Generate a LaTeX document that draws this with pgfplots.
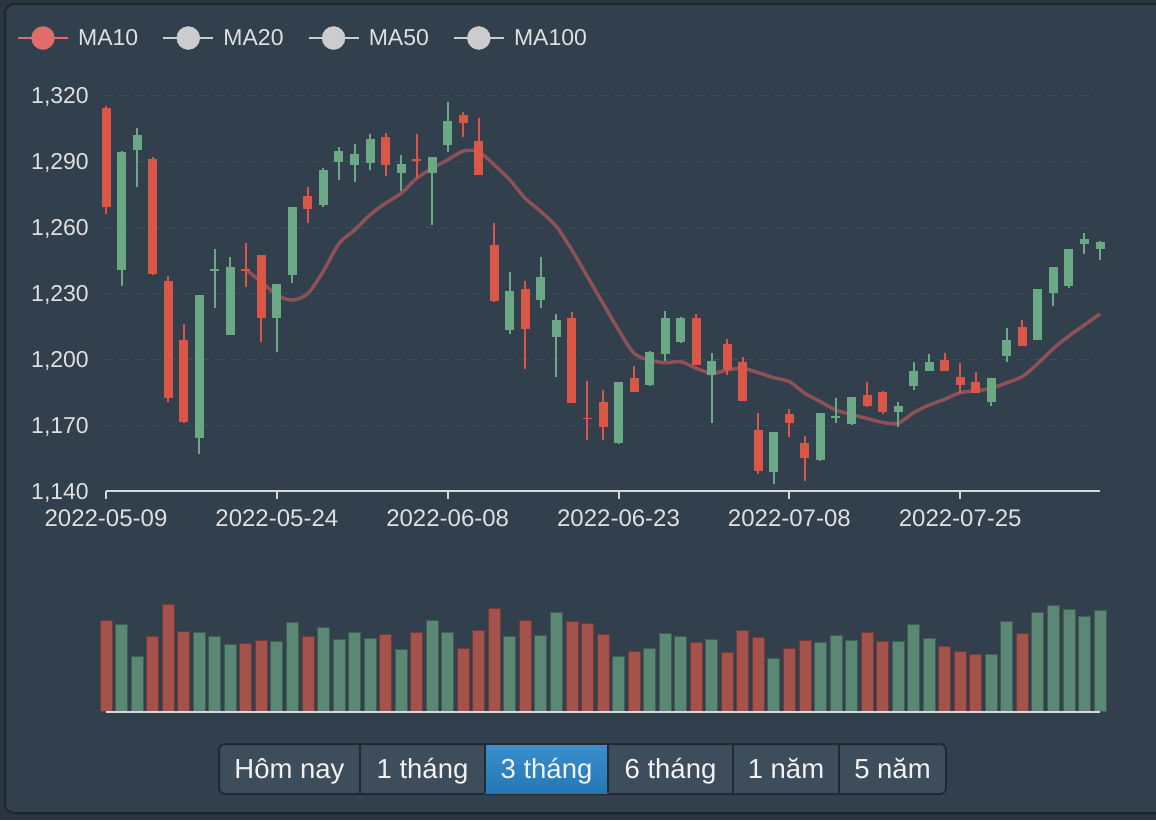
\documentclass[border=0pt]{standalone}
\usepackage{pgfplots}
\pgfplotsset{compat=1.18}
\usepackage{pgfplotstable}
\usepackage{fontspec}
\setmainfont{Liberation Sans}
\definecolor{outerbg}{RGB}{42,53,64}
\definecolor{panel}{RGB}{50,63,77}
\definecolor{panelborder}{RGB}{29,37,45}
\definecolor{cup}{RGB}{106,168,134}
\definecolor{cdn}{RGB}{218,87,71}
\definecolor{vup}{RGB}{91,136,116}
\definecolor{vdn}{RGB}{163,82,76}
\definecolor{maline}{RGB}{140,82,88}
\definecolor{txt}{RGB}{224,224,224}
\definecolor{gridc}{RGB}{64,78,92}
\definecolor{axisc}{RGB}{216,216,216}
\definecolor{ma10}{RGB}{224,108,108}
\definecolor{magrey}{RGB}{204,204,204}
\definecolor{btn}{RGB}{61,77,92}
\definecolor{btnborder}{RGB}{33,42,51}
\definecolor{btntop}{RGB}{58,142,204}
\definecolor{btnbot}{RGB}{34,120,181}

% i = trading day index, o/c/h/l = open/close/high/low, v = volume (relative)
\pgfplotstableread{
i o c h l v
0 1314 1269 1315 1266 90.7
3 1291 1238.5 1292 1238 74.7
4 1235.5 1182.4 1237.7 1180.6 106.3
5 1208.6 1171.5 1215.9 1170.8 79.7
9 1241 1240 1252.9 1232.6 67.3
10 1247.1 1218.5 1247.5 1207.9 70.7
13 1274.2 1268.2 1278 1261.7 74.3
18 1301.1 1288.2 1302.6 1283.3 76.3
20 1290.5 1290 1302.3 1282.1 78.3
23 1310.9 1307.4 1312.4 1300.8 63
24 1299.1 1283.6 1309.4 1283.6 81
25 1251.7 1226.5 1261.7 1226 102.3
27 1231.7 1213.6 1235.6 1195.3 90.7
30 1218.8 1180.2 1221.5 1180.2 89.7
31 1173.3 1172.6 1190 1163.2 87.7
32 1180.6 1168.9 1185.9 1163.2 76.7
34 1191.2 1185.2 1196.8 1185.2 59.7
38 1218.5 1197.3 1220.5 1197.3 68.3
40 1206.8 1195 1208.9 1192.7 58.3
41 1198.8 1180.9 1201 1180.9 80.7
42 1167.7 1149.2 1175.3 1147.7 73.7
44 1174.8 1171.1 1177.1 1164.4 63
45 1161.7 1155.2 1165.2 1144.7 70.7
49 1183.6 1178.8 1189.7 1178 78.7
50 1185.2 1176.1 1185.4 1174.8 69.3
54 1199.5 1194.5 1202.6 1194.5 64.7
55 1192 1188.2 1198 1184.4 59.3
56 1189.7 1184.7 1194.2 1184.5 56.3
59 1214.7 1206.1 1217.7 1206.1 77.7
}\dnT

\pgfplotstableread{
i o c h l v
1 1240.5 1294 1294.5 1233 86.7
2 1295 1302 1305 1278 55
6 1164 1229 1229.3 1156.7 78.7
7 1240 1241 1249.8 1223 74.3
8 1211 1242 1246.5 1211 66.3
11 1218.5 1234 1234 1203.3 69.3
12 1238.2 1268.9 1269 1234.4 89
14 1270 1285.9 1287 1269.2 83.3
15 1289.7 1294.4 1296.2 1281.4 72
16 1288.2 1293.2 1297.7 1280.6 78.7
17 1289.2 1300 1302.3 1285.9 73
19 1284.4 1288.5 1292.7 1276.5 62
21 1284.7 1291.7 1291.7 1260.9 90.3
22 1297.3 1308.3 1316.7 1294.2 78.7
26 1213.2 1230.9 1239.4 1211.2 75
28 1226.8 1237.1 1246.5 1223 75.7
29 1210.2 1217.7 1220.5 1192 98.7
33 1161.7 1189.4 1189.6 1161.5 55
35 1188.2 1203.3 1203.8 1187.6 62.3
36 1202.1 1218.5 1221.8 1199.1 77.3
37 1207.9 1218.5 1219 1207.5 75
39 1192.7 1199.2 1202.6 1171.1 71.7
43 1148.5 1167 1167 1143 52.3
46 1154.1 1175.3 1175.3 1153.5 68.7
47 1173.4 1174.2 1182.1 1171.1 75.3
48 1170.3 1182.6 1182.8 1170 70.7
51 1175.8 1178.6 1180.3 1169.2 69.3
52 1187.9 1194.5 1198.5 1185.9 86.7
53 1194.7 1198.8 1202.1 1194.7 72.3
57 1180.6 1191.5 1191.5 1178.8 56.3
58 1201.5 1208.6 1213.9 1198.8 89.7
60 1208.6 1231.7 1231.7 1208.6 98.3
61 1229.8 1242 1242 1224.1 106
62 1233.3 1250.2 1250.2 1232.4 101.3
63 1252.3 1254.5 1257.4 1247.6 94.7
64 1250 1253 1253.5 1245 100.7
}\upT

\pgfplotstableread{
i ma
9 1240.6
10 1235.1
11 1229.1
12 1226.8
13 1229.8
14 1240.0
15 1252.5
16 1258.6
17 1265.5
18 1270.8
19 1275.3
20 1282.1
21 1286.7
22 1290.5
23 1294.5
24 1294.2
25 1288.2
26 1281.4
27 1273.0
28 1267.0
29 1260.2
30 1249.5
31 1237.4
32 1225.3
33 1213.2
34 1202.6
35 1199.5
36 1198.3
37 1198.8
38 1195.8
39 1193.5
40 1195.0
41 1195.8
42 1193.8
43 1191.5
44 1189.7
45 1184.4
46 1180.6
47 1176.8
48 1174.8
49 1173.0
50 1171.2
51 1170.8
52 1175.6
53 1179.1
54 1181.7
55 1184.7
56 1185.5
57 1186.7
58 1189.2
59 1192.0
60 1198.0
61 1204.8
62 1210.5
63 1215.5
64 1220.5
}\maT

\begin{document}
\begin{tikzpicture}
\path[use as bounding box] (0pt,0pt) rectangle (1156pt,-820pt);
\fill[outerbg] (0pt,0pt) rectangle (1156pt,-820pt);
\draw[panelborder, line width=2pt, fill=panel, rounded corners=9pt] (5pt,-4pt) rectangle (1180pt,-813pt);

\begin{axis}[
  at={(106pt,-491pt)}, anchor=south west,
  scale only axis, width=994pt, height=396pt,
  xmin=0, xmax=64, ymin=1140, ymax=1320,
  clip=false,
  axis x line*=bottom, axis y line*=left,
  x axis line style={draw=axisc, line width=2pt},
  y axis line style={draw=none},
  xtick={0,11,22,33,44,55},
  xticklabels={2022-05-09,2022-05-24,2022-06-08,2022-06-23,2022-07-08,2022-07-25},
  ytick={1140,1170,1200,1230,1260,1290,1320},
  tick align=outside, major tick length=8pt,
  xtick style={draw=axisc, line width=2pt},
  ytick style={draw=none},
  ymajorgrids,
  grid style={gridc, line width=1pt, dash pattern=on 7pt off 9pt},
  yticklabel style={font=\fontsize{23}{27}\selectfont, text=txt, inner sep=0pt, anchor=base east, xshift=-9pt, yshift=-8.2pt,
    /pgf/number format/fixed, /pgf/number format/precision=0, /pgf/number format/1000 sep={,}, /pgf/number format/assume math mode=true},
  xticklabel style={font=\fontsize{24}{28}\selectfont, text=txt, inner sep=0pt, anchor=base, yshift=-27pt},
  legend columns=4,
  legend cell align=left,
  legend style={at={(-0.08954,1.1439)}, anchor=west, draw=none, fill=none, inner sep=0pt, outer sep=0pt,
    font=\fontsize{23}{27}\selectfont, text=txt, nodes={inner sep=0pt},
    /tikz/every even column/.append style={column sep=24pt}},
]
\addlegendimage{legend image code/.code={\draw[ma10, line width=2pt] (0pt,0pt) -- (50pt,0pt); \fill[ma10] (25pt,0pt) circle (11.5pt); \path (60pt,0pt);}}
\addlegendentry{MA10}
\addlegendimage{legend image code/.code={\draw[magrey, line width=2pt] (0pt,0pt) -- (50pt,0pt); \fill[magrey] (25pt,0pt) circle (11.5pt); \path (60pt,0pt);}}
\addlegendentry{MA20}
\addlegendimage{legend image code/.code={\draw[magrey, line width=2pt] (0pt,0pt) -- (50pt,0pt); \fill[magrey] (25pt,0pt) circle (11.5pt); \path (60pt,0pt);}}
\addlegendentry{MA50}
\addlegendimage{legend image code/.code={\draw[magrey, line width=2pt] (0pt,0pt) -- (50pt,0pt); \fill[magrey] (25pt,0pt) circle (11.5pt); \path (60pt,0pt);}}
\addlegendentry{MA100}

% MA10 line
\addplot[forget plot, maline, line width=3.5pt, smooth, mark=none] table[x=i, y=ma] {\maT};

% wicks
\addplot[forget plot, draw=none, mark=none,
  error bars/.cd, y dir=plus, y explicit, error mark=none,
  error bar style={line width=2pt, draw=cdn}]
  table[x=i, y=l, y error expr={\thisrow{h}-\thisrow{l}}] {\dnT};
\addplot[forget plot, draw=none, mark=none,
  error bars/.cd, y dir=plus, y explicit, error mark=none,
  error bar style={line width=2pt, draw=cup}]
  table[x=i, y=l, y error expr={\thisrow{h}-\thisrow{l}}] {\upT};
% bodies
\addplot[forget plot, draw=none, mark=none,
  error bars/.cd, y dir=plus, y explicit, error mark=none,
  error bar style={line width=9pt, draw=cdn}]
  table[x=i, y expr={min(\thisrow{o},\thisrow{c})}, y error expr={max(abs(\thisrow{c}-\thisrow{o}),0.8)}] {\dnT};
\addplot[forget plot, draw=none, mark=none,
  error bars/.cd, y dir=plus, y explicit, error mark=none,
  error bar style={line width=9pt, draw=cup}]
  table[x=i, y expr={min(\thisrow{o},\thisrow{c})}, y error expr={max(abs(\thisrow{c}-\thisrow{o}),0.8)}] {\upT};
\end{axis}

\begin{axis}[
  at={(106pt,-712pt)}, anchor=south west,
  scale only axis, width=994pt, height=121pt,
  xmin=0, xmax=64, ymin=-1, ymax=120,
  clip=false, axis on top,
  axis x line*=bottom, axis y line*=left,
  x axis line style={draw=axisc, line width=2pt},
  y axis line style={draw=none},
  xtick=\empty, ytick=\empty,
]
\addplot[ybar, bar width=12pt, bar shift=0pt, fill=vdn, draw=vdn!70!black, line width=0.8pt, mark=none] table[x=i, y=v] {\dnT};
\addplot[ybar, bar width=12pt, bar shift=0pt, fill=vup, draw=vup!70!black, line width=0.8pt, mark=none] table[x=i, y=v] {\upT};
\end{axis}

% range buttons
\draw[btnborder, line width=2pt, fill=btn, rounded corners=6pt] (219pt,-744pt) rectangle (946pt,-794pt);
\shade[top color=btntop, bottom color=btnbot] (485pt,-745pt) rectangle (608pt,-793pt);
\foreach \xx in {360,485,608,733,839} {
  \draw[btnborder, line width=1.5pt] (\xx pt,-745pt) -- (\xx pt,-793pt);
}
\begin{scope}[every node/.style={font=\fontsize{27.5}{32}\selectfont, text={rgb,255:red,242;green,242;blue,242}, inner sep=0pt, anchor=base}]
\node at (289.5pt,-778.7pt) {Hôm nay};
\node at (422.5pt,-778.7pt) {1 tháng};
\node at (546.5pt,-778.7pt) {3 tháng};
\node at (670.5pt,-778.7pt) {6 tháng};
\node at (786pt,-778.7pt) {1 năm};
\node at (892.5pt,-778.7pt) {5 năm};
\end{scope}
\end{tikzpicture}
\end{document}
